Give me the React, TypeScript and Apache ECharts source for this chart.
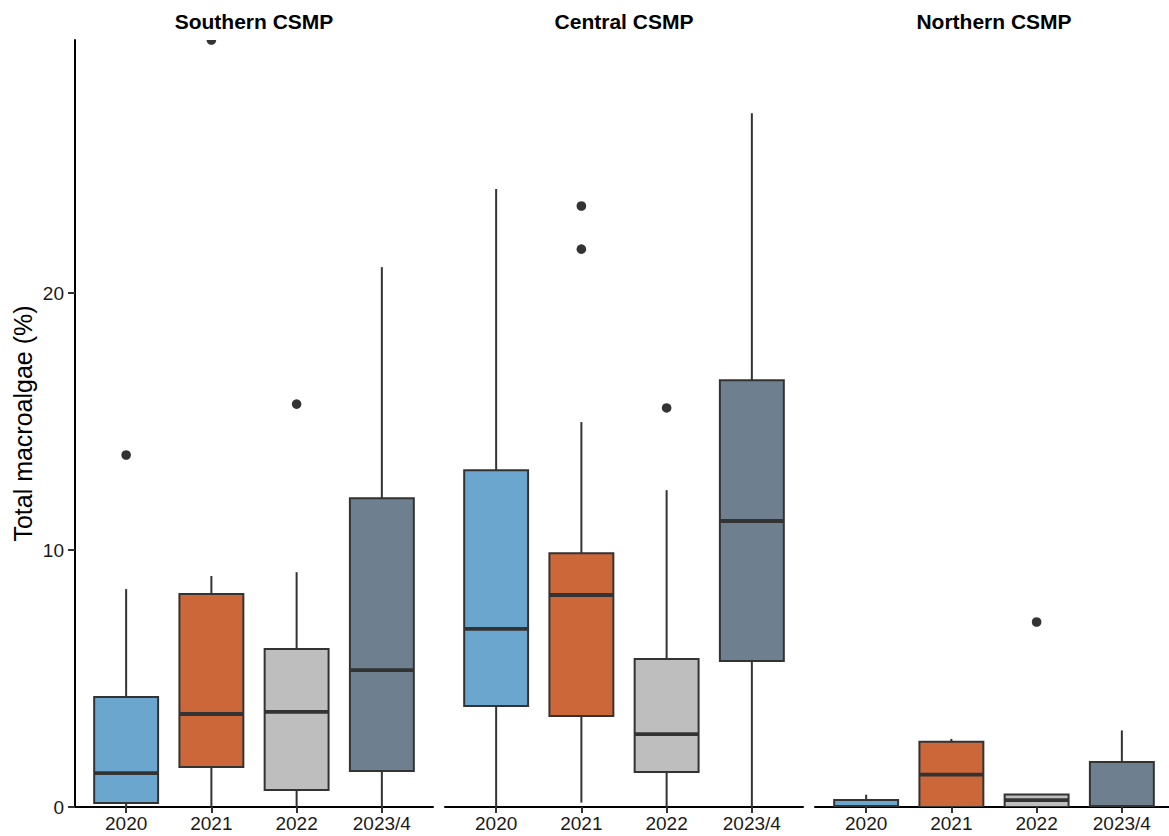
import React, { useEffect, useRef } from "react";
import * as echarts from "echarts";

const years = ["2020", "2021", "2022", "2023/4"];
const panelTitles = ["Southern CSMP", "Central CSMP", "Northern CSMP"];
const yearColors = ["#6BA6CE", "#CC673A", "#BEBEBE", "#6E7F90"];
const yTicks = [0, 10, 20];
const xTicks = [1, 2, 3, 4];

// each box: [lower whisker, Q1, median, Q3, upper whisker]
const southernBoxes = [
  [0, 0.16, 1.32, 4.28, 8.48],
  [0, 1.56, 3.62, 8.29, 8.99],
  [0, 0.66, 3.7, 6.15, 9.14],
  [0, 1.4, 5.33, 12.02, 21.01],
];
const centralBoxes = [
  [0, 3.93, 6.93, 13.11, 24.05],
  [0.17, 3.54, 8.25, 9.88, 14.98],
  [0, 1.36, 2.84, 5.76, 12.33],
  [0, 5.68, 11.13, 16.61, 27.0],
];
const northernBoxes = [
  [0, 0, 0, 0.27, 0.48],
  [0, 0, 1.26, 2.54, 2.65],
  [0, 0, 0.27, 0.49, 0.49],
  [0, 0, 0, 1.75, 2.98],
];

// outliers: [year position (1-4), value]
const southernOutliers = [
  [1, 13.7],
  [2, 29.85],
  [3, 15.68],
];
const centralOutliers = [
  [2, 23.39],
  [2, 21.71],
  [3, 15.53],
];
const northernOutliers = [[3, 7.2]];

const allBoxes = [southernBoxes, centralBoxes, northernBoxes];
const allOutliers = [southernOutliers, centralOutliers, northernOutliers];

const Y_MAX = 29.85;
const LINE = "#333333";
const FONT = "'Liberation Sans', Arial, Helvetica, sans-serif";

const panelLeft = [75, 445, 815];
const panelWidth = 358;
const gridTop = 40;
const gridHeight = 767;

export default function App() {
  const ref = useRef<HTMLDivElement>(null);

  useEffect(() => {
    if (!ref.current) return;
    const chart = echarts.init(ref.current, undefined, { renderer: "svg" });

    const grids: any[] = [];
    const xAxes: any[] = [];
    const yAxes: any[] = [];
    const series: any[] = [];
    const graphics: any[] = [];

    for (let p = 0; p < 3; p++) {
      grids.push({
        left: panelLeft[p],
        top: gridTop,
        width: panelWidth,
        height: gridHeight,
        containLabel: false,
        outerBoundsMode: "none",
      });
      xAxes.push({
        type: "value",
        gridIndex: p,
        min: 0.4,
        max: 4.6,
        splitLine: { show: false },
        axisLine: { show: true, onZero: false, lineStyle: { color: "#000", width: 2 } },
        axisTick: {
          show: true,
          customValues: xTicks,
          length: 6,
          lineStyle: { color: LINE, width: 2 },
        },
        axisLabel: {
          show: true,
          customValues: xTicks,
          formatter: (v: number) => years[Math.round(v) - 1] ?? "",
          fontSize: 19,
          color: "#1a1a1a",
          fontFamily: FONT,
          margin: 7,
        },
      });
      yAxes.push({
        type: "value",
        gridIndex: p,
        min: 0,
        max: Y_MAX,
        show: p === 0,
        splitLine: { show: false },
        axisLine: { show: true, onZero: false, lineStyle: { color: "#000", width: 2 } },
        axisTick: {
          show: true,
          customValues: yTicks,
          length: 7,
          lineStyle: { color: LINE, width: 2 },
        },
        axisLabel: {
          show: true,
          customValues: yTicks,
          fontSize: 19,
          color: "#1a1a1a",
          fontFamily: FONT,
          margin: 11,
        },
        name: p === 0 ? "Total macroalgae (%)" : "",
        nameLocation: "middle",
        nameGap: 40,
        nameTextStyle: { fontSize: 25, color: "#000", fontFamily: FONT },
      });

      const boxData = allBoxes[p].map((b, i) => [i + 1, ...b]);
      series.push({
        type: "custom",
        xAxisIndex: p,
        yAxisIndex: p,
        data: boxData,
        encode: { x: 0, y: [1, 2, 3, 4, 5] },
        clip: true,
        renderItem: (params: any, api: any) => {
          const x = api.value(0);
          const lo = api.coord([x, api.value(1)]);
          const q1 = api.coord([x, api.value(2)]);
          const med = api.coord([x, api.value(3)]);
          const q3 = api.coord([x, api.value(4)]);
          const hi = api.coord([x, api.value(5)]);
          const halfW = api.size([0.75, 0])[0] / 2;
          const cx = lo[0];
          const color = yearColors[params.dataIndex];
          const ls = { stroke: LINE, lineWidth: 2 };
          return {
            type: "group",
            children: [
              { type: "line", shape: { x1: cx, y1: q3[1], x2: cx, y2: hi[1] }, style: ls },
              { type: "line", shape: { x1: cx, y1: q1[1], x2: cx, y2: lo[1] }, style: ls },
              {
                type: "rect",
                shape: { x: cx - halfW, y: q3[1], width: halfW * 2, height: q1[1] - q3[1] },
                style: { fill: color, stroke: LINE, lineWidth: 2 },
              },
              {
                type: "line",
                shape: { x1: cx - halfW, y1: med[1], x2: cx + halfW, y2: med[1] },
                style: { stroke: LINE, lineWidth: 3.8 },
              },
            ],
          };
        },
      });

      series.push({
        type: "custom",
        xAxisIndex: p,
        yAxisIndex: p,
        data: allOutliers[p],
        encode: { x: 0, y: 1 },
        clip: true,
        renderItem: (_params: any, api: any) => {
          const pt = api.coord([api.value(0), api.value(1)]);
          return {
            type: "circle",
            shape: { cx: pt[0], cy: pt[1], r: 4.8 },
            style: { fill: LINE },
          };
        },
      });

      graphics.push({
        type: "text",
        x: panelLeft[p] + panelWidth / 2,
        y: 21,
        style: {
          text: panelTitles[p],
          fontSize: 21,
          fontWeight: "bold",
          fontFamily: FONT,
          fill: "#000",
          align: "center",
          verticalAlign: "middle",
        },
      });
    }

    chart.setOption({
      animation: false,
      backgroundColor: "#ffffff",
      textStyle: { fontFamily: FONT },
      grid: grids,
      xAxis: xAxes,
      yAxis: yAxes,
      series,
      graphic: graphics,
    });

    return () => chart.dispose();
  }, []);

  return (
    <div
      ref={ref}
      style={{ position: "absolute", left: 0, top: 0, width: 1169, height: 836, background: "#fff" }}
    />
  );
}
